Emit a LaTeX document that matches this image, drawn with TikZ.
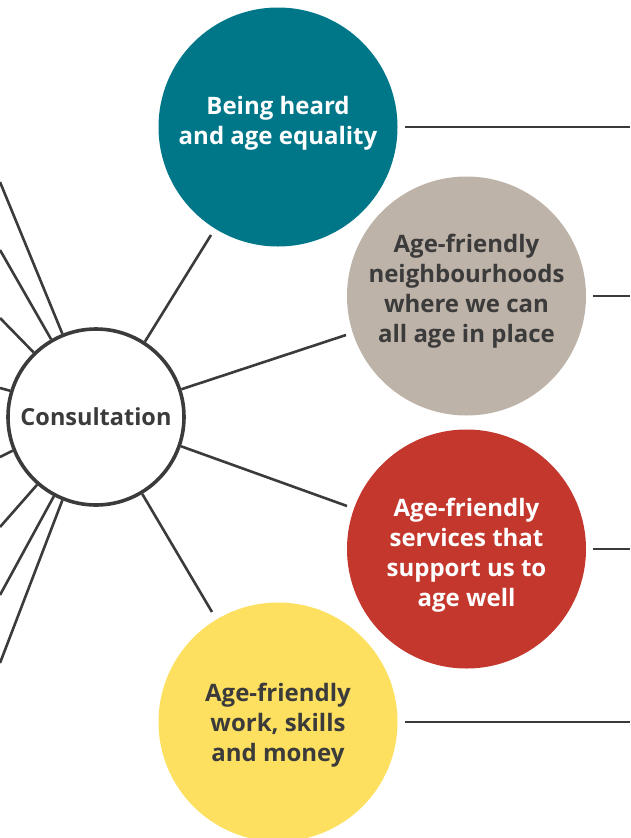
\documentclass[tikz,border=0pt]{standalone}
\usepackage{fontspec}
\setmainfont{Open Sans}[UprightFont=* Bold]
\definecolor{ink}{HTML}{3B3B3B}
\definecolor{tealc}{HTML}{007789}
\definecolor{beigec}{HTML}{BEB3A8}
\definecolor{redc}{HTML}{C4372D}
\definecolor{yellowc}{HTML}{FEE060}
\tikzset{
  disc/.style={circle, minimum size=239pt, inner sep=0pt},
  themetext/.style={inner sep=0pt, align=center, font=\fontsize{24}{30}\selectfont},
  hub/.style={circle, draw=ink, line width=3.6pt, fill=white, minimum size=176pt,
    inner sep=0pt, text=ink, font=\fontsize{23.5}{30}\selectfont},
  spoke/.style={draw=ink, line width=2.6pt},
}
\begin{document}
\begin{tikzpicture}[x=1pt,y=-1pt]
\useasboundingbox (0,0) rectangle (630,838);
% theme circles
\node[disc, fill=tealc] (heard) at (278,127) {};
\node[disc, fill=beigec] (neigh) at (466.5,296) {};
\node[disc, fill=redc] (serv) at (466.5,549) {};
\node[disc, fill=yellowc] (work) at (278,722) {};
% theme texts
\node[themetext, text=white] (heardtxt) at ([yshift=4pt]heard.center) {Being heard\\and age equality};
\node[themetext, text=ink] (neightxt) at ([yshift=5pt]neigh.center) {Age-friendly\\neighbourhoods\\where we can\\all age in place};
\node[themetext, text=white] (servtxt) at ([yshift=-6pt]serv.center) {Age-friendly\\services that\\support us to\\age well};
\node[themetext, text=ink] (worktxt) at ([yshift=-3pt]work.center) {Age-friendly\\work, skills\\and money};
% hub
\node[hub] (hub) at (96,417) {Consultation};
% spoke ends
\coordinate (eheard) at (211,235);
\coordinate (eneigh) at (346,335);
\coordinate (eserv) at (347,506);
\coordinate (ework) at (212,612);
\coordinate (l1) at (0,182);
\coordinate (l2) at (0,250);
\coordinate (l3) at (0,318);
\coordinate (l4) at (0,388);
\coordinate (l5) at (0,457);
\coordinate (l6) at (0,527);
\coordinate (l7) at (0,595);
\coordinate (l8) at (0,663);
% right-edge ends
\coordinate (rheard) at (630,127);
\coordinate (rneigh) at (630,296);
\coordinate (rserv) at (630,549);
\coordinate (rwork) at (630,722);
% spokes
\draw[spoke] (hub.57.5) -- (eheard);
\draw[spoke] (hub.18) -- (eneigh);
\draw[spoke] (hub.-19.5) -- (eserv);
\draw[spoke] (hub.-59) -- (ework);
\draw[spoke] (hub.112.2) -- (l1);
\draw[spoke] (hub.120) -- (l2);
\draw[spoke] (hub.134.5) -- (l3);
\draw[spoke] (hub.163) -- (l4);
\draw[spoke] (hub.202.5) -- (l5);
\draw[spoke] (hub.229) -- (l6);
\draw[spoke] (hub.242) -- (l7);
\draw[spoke] (hub.248.3) -- (l8);
% horizontal connectors
\draw[spoke] ([xshift=7pt]heard.east) -- (rheard);
\draw[spoke] ([xshift=7pt]neigh.east) -- (rneigh);
\draw[spoke] ([xshift=7pt]serv.east) -- (rserv);
\draw[spoke] ([xshift=7pt]work.east) -- (rwork);
\end{tikzpicture}
\end{document}
